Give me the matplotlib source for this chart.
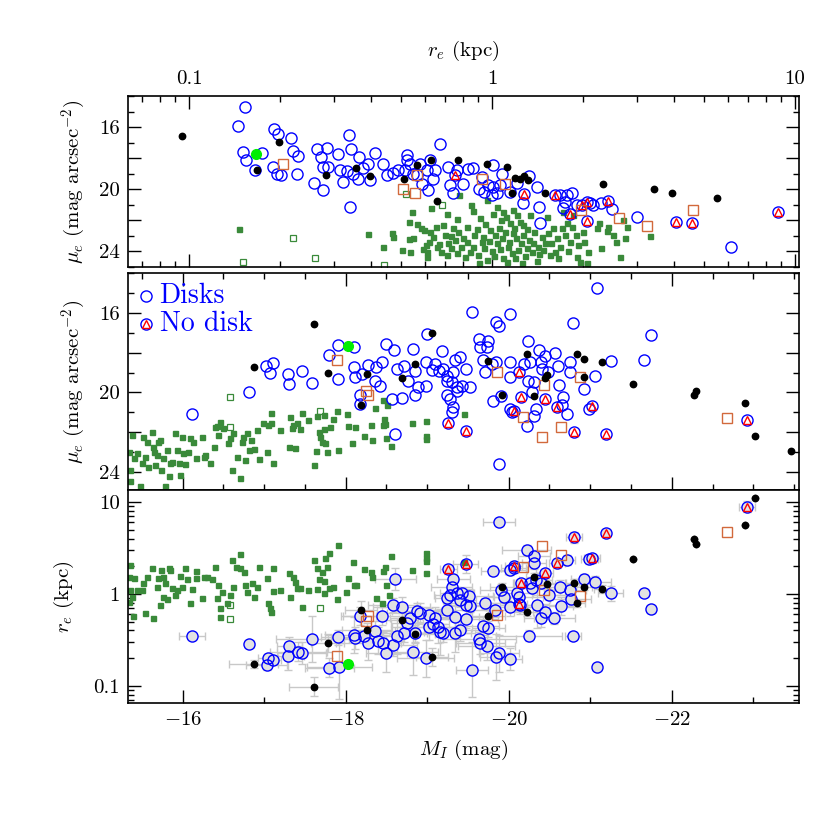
import numpy as np
import matplotlib
matplotlib.use('Agg')
import matplotlib.pyplot as plt
from matplotlib.ticker import MultipleLocator, LogLocator, NullFormatter

plt.rcParams['font.family'] = 'serif'
plt.rcParams['font.serif'] = ['cmr10', 'DejaVu Serif']
plt.rcParams['mathtext.fontset'] = 'cm'
plt.rcParams['axes.formatter.use_mathtext'] = True

# ---------------- top panel: (log10 r_e [kpc], mu_e) ----------------
top_disk = [(-0.815,14.72),(-0.837,15.96),(-0.720,16.11),(-0.705,16.47),(-0.665,16.70),(-0.821,17.60),(-0.760,17.67),
            (-0.812,18.14),(-0.782,18.73),(-0.724,18.56),(-0.711,19.03),(-0.698,19.10),(-0.645,18.99),(-0.656,17.54),
            (-0.640,17.88),(-0.579,17.39),(-0.546,17.32),(-0.566,17.92),(-0.507,17.71),(-0.471,16.53),(-0.467,17.39),
            (-0.438,17.92),(-0.386,17.67),(-0.557,18.56),(-0.540,18.56),(-0.502,18.73),(-0.477,18.82),(-0.458,18.99),
            (-0.441,19.31),(-0.408,18.35),(-0.403,19.42),(-0.425,18.61),(-0.359,18.35),(-0.348,19.10),(-0.326,18.95),
            (-0.588,19.59),(-0.559,20.02),(-0.493,19.52),(-0.469,21.13),(-0.282,17.82),(-0.280,18.14),(-0.271,18.35),
            (-0.287,18.78),(-0.260,18.99),(-0.238,18.35),(-0.216,18.78),(-0.205,18.14),(-0.194,19.31),(-0.172,17.07),
            (-0.188,18.78),(-0.139,19.74),(-0.144,18.56),(-0.128,20.27),(-0.117,18.78),(-0.095,19.63),(-0.078,18.67),
            (-0.210,20.06),(-0.232,19.63),(-0.249,19.10),(-0.309,18.78),
            (-0.064,18.63),(-0.034,19.20),(-0.042,19.99),(-0.027,20.16),(-0.012,19.74),(0.004,19.84),(-0.001,20.38),
            (0.015,20.21),(0.032,18.99),(0.004,18.41),(0.026,19.74),(0.059,20.16),(0.081,19.57),(0.123,19.14),
            (0.149,19.84),(0.103,20.85),(0.156,21.13),(0.158,22.19),(0.224,20.38),(0.248,20.34),(0.263,20.27),
            (0.241,20.81),(0.235,21.23),(0.279,21.02),(0.334,21.02),(0.358,20.85),(0.395,21.28),(0.323,20.91),
            (0.477,21.77),(0.787,23.69)]
top_nodisk = [(0.106,20.31),(0.208,20.38),(0.257,21.60),(0.312,20.81),(0.384,20.76),(0.312,22.02),(0.296,21.02),
              (-0.122,19.05),(0.607,22.13),(0.659,22.15),(0.945,21.49)]
top_black = [(-1.024,16.60),(-0.702,16.98),(-0.774,18.73),(-0.548,19.05),(-0.449,18.63),(-0.403,19.12),(-0.291,19.31),
             (-0.247,18.46),(-0.203,18.14),(-0.183,20.74),(-0.111,18.14),(-0.016,18.39),(0.051,18.56),(0.065,20.23),
             (0.076,19.27),(0.092,19.31),(0.105,19.14),(0.120,19.42),(0.175,20.27),(0.367,19.63),(0.534,19.99),
             (0.595,20.23),(0.743,20.59)]
top_brown = [(-0.689,18.39),(-0.293,19.97),(-0.254,20.21),(-0.247,19.10),(-0.032,19.31),(0.043,19.69),(0.292,21.34),
             (0.418,21.83),(0.512,22.37),(0.664,21.34)]
top_lime = [(-0.779,17.71)]
top_green_open = [(-0.823,24.70),(-0.656,23.13),(-0.584,24.40),(-0.356,24.87),(-0.284,20.31),(-0.166,21.02)]
top_green = [(-0.835,22.56),(-0.408,22.88),(-0.361,23.69),(-0.331,22.84),(-0.326,23.05),(-0.296,23.93),(-0.273,22.09),
             (-0.273,23.20),(-0.271,24.01),(-0.265,21.45),(-0.260,23.12),(-0.247,22.26),(-0.233,22.52),(-0.229,23.84),
             (-0.225,22.62),(-0.218,23.59),(-0.216,24.01),(-0.213,24.33),(-0.207,23.37),(-0.205,22.73),(-0.200,21.19),
             (-0.194,23.05),(-0.185,22.41),(-0.183,23.69),(-0.174,23.54),(-0.169,24.01),(-0.161,22.30),(-0.156,22.95),
             (-0.150,24.23),(-0.148,21.62),(-0.145,23.44),(-0.137,23.80),(-0.134,22.99),(-0.128,22.48),(-0.123,23.27),
             (-0.117,21.88),(-0.115,24.12),(-0.112,22.73),(-0.108,20.38),(-0.104,23.69),(-0.095,23.12),(-0.090,24.33),
             (-0.084,23.37),(-0.082,22.41),(-0.073,24.01),(-0.068,21.02),(-0.064,23.69),(-0.062,21.41),(-0.060,22.95),
             (-0.051,22.56),(-0.046,24.23),(-0.042,24.76),(-0.040,21.83),(-0.034,23.37),(-0.031,23.05),(-0.027,23.80),
             (-0.023,22.26),(-0.018,20.70),(-0.016,24.55),(-0.009,23.33),(-0.007,22.62),(-0.001,23.97),(0.004,21.62),
             (0.006,24.27),(0.010,22.95),(0.015,21.13),(0.018,23.48),(0.024,22.48),(0.026,23.84),(0.028,21.98),
             (0.032,23.16),(0.035,24.44),(0.037,21.45),(0.043,22.73),(0.046,21.77),(0.048,24.66),(0.054,23.69),
             (0.057,23.37),(0.059,22.20),(0.065,24.12),(0.068,21.34),(0.070,22.84),(0.073,22.52),(0.077,24.44),
             (0.079,23.16),(0.081,21.66),(0.087,23.91),(0.092,22.09),(0.094,23.48),(0.098,24.76),(0.101,22.95),
             (0.103,22.30),(0.109,24.29),(0.114,23.80),(0.117,22.56),(0.123,23.27),(0.125,21.66),(0.131,24.01),
             (0.134,23.48),(0.138,22.73),(0.147,24.61),(0.153,23.69),(0.156,24.18),(0.164,23.05),(0.169,23.91),
             (0.175,23.48),(0.180,21.77),(0.186,22.84),(0.191,24.23),(0.193,23.48),(0.200,22.52),(0.208,24.01),
             (0.213,23.16),(0.219,24.44),(0.224,23.69),(0.230,22.52),(0.235,21.45),(0.241,22.95),(0.246,22.20),
             (0.252,23.97),(0.257,23.37),(0.263,22.41),(0.268,21.66),(0.277,22.95),(0.281,24.33),(0.285,23.59),
             (0.290,24.66),(0.299,22.73),(0.303,23.37),(0.312,24.76),(0.317,24.01),(0.345,22.52),(0.354,22.20),
             (0.361,23.80),(0.378,22.69),(0.383,22.43),(0.400,22.95),(0.408,23.37),(0.422,24.38),(0.433,21.98),
             (0.439,23.16),(0.444,22.41),(0.521,23.01)]

# ---------------- middle panel: (M_I, mu_e) ----------------
mid_disk = [(-16.11,21.09),(-16.82,19.97),(-17.02,18.69),(-17.11,18.52),(-17.07,19.02),(-17.29,19.09),(-17.31,19.55),
            (-17.46,18.94),(-17.59,19.52),(-17.79,18.12),(-17.91,17.62),(-18.10,17.69),(-17.90,19.32),(-18.10,18.74),
            (-18.12,19.24),(-18.20,19.07),(-18.28,18.62),(-18.37,18.74),(-18.44,18.49),(-18.36,19.40),(-18.42,19.65),
            (-18.17,20.15),(-18.18,20.57),(-18.49,17.54),(-18.59,17.87),(-18.63,18.82),(-18.71,18.69),(-18.83,17.82),
            (-18.85,18.90),(-18.77,19.40),(-18.89,19.74),(-18.85,20.12),(-18.99,19.69),(-18.69,20.29),(-18.57,20.35),
            (-18.61,22.10),(-18.99,18.45),(-19.00,17.07),(-19.06,18.85),(-19.10,18.57),(-19.18,17.94),(-19.14,18.90),
            (-19.20,18.82),(-19.24,19.15),(-19.32,18.99),(-19.34,18.35),(-19.40,18.24),(-19.47,18.82),(-19.24,19.40),
            (-19.30,19.49),(-19.36,19.74),(-19.43,19.65),(-19.53,19.74),(-19.36,19.90),(-19.24,20.12),(-19.28,20.32),
            (-19.32,20.74),(-19.30,20.99),(-19.55,15.95),(-19.64,17.29),(-19.74,17.40),(-19.65,17.69),(-19.73,17.69),
            (-19.68,18.35),(-19.71,18.99),(-19.79,18.57),(-19.85,18.49),(-20.01,18.49),(-19.85,16.45),(-19.88,16.65),
            (-20.01,16.07),(-19.81,20.45),(-19.90,20.19),(-19.88,23.57),(-20.01,19.24),(-20.04,20.99),(-20.02,20.82),
            (-20.24,17.40),(-20.19,18.57),(-20.26,18.49),(-20.24,19.40),(-20.31,19.45),(-20.28,19.99),(-20.33,20.82),
            (-20.31,21.19),(-20.22,21.69),(-20.37,17.85),(-20.45,18.15),(-20.39,18.45),(-20.41,18.82),(-20.48,18.99),
            (-20.57,18.04),(-20.61,18.65),(-20.75,18.49),(-20.75,18.95),(-20.62,19.62),(-20.67,20.24),(-20.65,20.62),
            (-20.71,21.07),(-20.79,16.52),(-20.92,19.82),(-21.06,19.15),(-20.98,20.82),(-21.08,14.74),(-21.25,18.40),
            (-21.74,17.09),(-21.66,18.35)]
mid_nodisk = [(-19.26,21.52),(-19.47,21.95),(-20.13,18.99),(-20.15,20.24),(-20.06,20.95),(-20.44,20.35),(-20.59,20.74),
              (-20.80,21.99),(-21.02,20.69),(-21.19,22.07),(-22.92,21.37)]
mid_black = [(-16.87,18.72),(-17.61,16.57),(-17.78,19.02),(-18.26,19.07),(-18.19,20.65),(-18.69,19.29),(-18.85,18.57),
             (-19.06,16.99),(-19.75,18.40),(-19.92,20.15),(-20.22,18.07),(-20.31,20.19),(-20.47,19.10),(-20.45,19.29),
             (-20.84,18.07),(-20.92,18.32),(-20.92,19.24),(-21.14,18.49),(-21.53,19.59),(-22.27,20.15),(-22.30,19.92),
             (-22.90,20.54),(-23.02,22.17),(-23.46,22.92)]
mid_brown = [(-17.89,18.37),(-18.25,19.90),(-18.28,20.15),(-19.86,18.99),(-20.43,19.62),(-20.87,19.24),(-20.17,21.24),
             (-20.41,22.24),(-20.64,21.75),(-22.68,21.27)]
mid_lime = [(-18.03,17.65)]
mid_green_open = [(-16.58,20.22),(-16.58,21.72),(-17.69,20.95)]
mid_green = [(-15.38,22.14),(-15.34,22.97),(-15.36,23.89),(-15.35,24.47),(-15.40,23.30),(-15.44,23.05),(-15.48,24.72),
             (-15.50,23.55),(-15.52,22.22),(-15.54,23.22),(-15.56,22.47),(-15.58,23.72),(-15.62,21.97),(-15.64,22.72),
             (-15.65,22.97),(-15.66,23.64),(-15.68,23.14),(-15.70,22.47),(-15.72,22.39),(-15.74,23.89),(-15.76,23.30),
             (-15.79,24.72),(-15.81,22.89),(-15.83,24.22),(-15.85,23.55),(-15.87,23.47),(-15.91,22.05),(-15.93,22.89),
             (-15.95,23.55),(-15.97,24.14),(-15.99,22.22),(-16.01,23.05),(-16.03,23.59),(-16.07,22.97),(-16.09,22.30),
             (-16.13,22.47),(-16.17,23.30),(-16.24,22.22),(-16.26,23.22),(-16.28,23.14),(-16.34,23.55),(-16.38,22.72),
             (-16.40,21.72),(-16.42,21.69),(-16.44,22.14),(-16.46,21.47),(-16.50,21.80),(-16.56,22.55),(-16.58,22.30),
             (-16.60,23.89),(-16.62,22.05),(-16.67,23.22),(-16.70,24.30),(-16.73,22.47),(-16.74,22.22),(-16.77,23.39),
             (-16.79,22.05),(-16.81,22.89),(-16.84,22.39),(-16.88,22.85),(-16.91,21.89),(-16.94,23.35),(-16.98,21.55),
             (-17.03,22.97),(-17.05,21.64),(-17.08,21.05),(-17.09,21.55),(-17.11,23.55),(-17.20,21.89),(-17.30,22.72),
             (-17.32,21.22),(-17.34,21.80),(-17.36,21.64),(-17.38,22.80),(-17.40,21.55),
             (-17.46,21.02),(-17.54,21.40),(-17.65,21.19),(-17.74,21.12),(-17.84,21.32),(-17.89,20.95),(-18.02,21.07),
             (-18.03,21.69),(-18.12,21.74),(-18.22,22.19),(-18.31,21.65),(-18.32,22.40),(-18.08,22.52),(-18.36,20.79),
             (-18.46,20.37),(-18.51,20.65),(-18.47,21.32),(-18.48,21.57),(-18.46,21.62),(-18.50,22.29),(-18.55,22.69),
             (-18.81,21.52),(-18.98,21.45),(-18.99,22.19),(-18.98,22.32),(-19.45,21.10),(-17.44,21.82),(-17.67,21.99),
             (-17.69,22.24),(-17.73,21.82),(-17.75,22.52),(-17.77,22.99),(-17.64,22.95),(-17.90,22.90),(-17.61,23.65),
             (-17.81,21.74),(-17.71,22.49)]

# ---------------- bottom panel: (M_I, log10 r_e, err M_I, err log r_e) ----------------
bot_disk = [(-16.11,-0.457,0.16,0.03),(-16.82,-0.544,0.05,0.03),(-17.03,-0.772,0.25,0.06),(-17.05,-0.699,0.12,0.05),
            (-17.11,-0.717,0.10,0.04),(-17.29,-0.681,0.20,0.15),(-17.31,-0.572,0.15,0.10),(-17.42,-0.627,0.35,0.10),
            (-17.46,-0.638,0.30,0.12),(-17.59,-0.490,0.45,0.25),(-17.80,-0.801,0.30,0.10),(-17.90,-0.471,0.20,0.08),
            (-17.92,-0.798,0.40,0.35),(-18.10,-0.446,0.35,0.20),(-18.12,-0.482,0.30,0.12),(-18.17,-0.240,0.20,0.10),
            (-18.22,-0.453,0.15,0.06),(-18.28,-0.537,0.40,0.18),(-18.36,-0.399,0.25,0.10),(-18.40,-0.508,0.30,0.15),
            (-18.44,-0.240,0.50,0.10),(-18.46,-0.529,0.20,0.12),(-18.50,-0.645,0.25,0.20),(-18.58,-0.555,0.30,0.12),
            (-18.61,0.159,0.25,0.12),(-18.58,-0.120,0.30,0.08),(-18.63,-0.457,0.20,0.20),(-18.69,-0.138,0.35,0.10),
            (-18.71,-0.428,0.40,0.10),(-18.75,-0.319,0.20,0.06),(-18.79,-0.265,0.25,0.08),(-18.83,-0.627,0.30,0.25),
            (-18.85,-0.421,0.15,0.10),(-18.87,-0.182,0.30,0.08),(-18.91,-0.203,0.40,0.10),(-18.98,-0.700,0.35,0.20),
            (-19.02,-0.229,0.30,0.08),(-19.02,-0.356,0.45,0.15),(-19.07,-0.327,0.20,0.10),(-19.10,-0.265,0.30,0.12),
            (-19.13,-0.356,0.25,0.18),(-19.16,-0.410,0.20,0.25),(-19.19,-0.428,0.35,0.10),(-19.24,-0.048,0.15,0.06),
            (-19.24,-0.174,0.30,0.10),(-19.28,-0.011,0.20,0.05),(-19.30,0.079,0.25,0.08),(-19.32,0.159,0.20,0.06),
            (-19.34,-0.247,0.30,0.15),(-19.34,-0.428,0.25,0.20),(-19.36,0.014,0.20,0.06),(-19.40,-0.392,0.30,0.12),
            (-19.40,-0.066,0.20,0.08),(-19.43,0.007,0.15,0.05),(-19.47,-0.276,0.40,0.10),(-19.48,-0.120,0.20,0.06),
            (-19.51,-0.022,0.30,0.08),(-19.53,-0.131,0.25,0.07),(-19.55,-0.827,0.20,0.30),(-19.64,-0.493,0.45,0.08),
            (-19.65,-0.537,0.30,0.12),(-19.68,-0.348,0.20,0.10),(-19.71,-0.102,0.25,0.06),(-19.73,-0.566,0.35,0.15),
            (-19.75,-0.374,0.20,0.10),(-19.81,0.253,0.15,0.05),(-19.83,-0.174,0.30,0.08),(-19.85,-0.689,0.20,0.25),
            (-19.88,-0.645,0.25,0.20),(-19.88,0.786,0.20,0.03),(-19.90,0.043,0.25,0.06),(-19.94,-0.037,0.20,0.08),
            (-20.01,-0.711,0.15,0.12),(-20.02,-0.138,0.30,0.10),(-20.02,0.260,0.20,0.05),(-20.06,0.279,0.15,0.05),
            (-20.10,0.007,0.20,0.06),(-20.12,-0.029,0.30,0.08),(-20.14,-0.120,0.25,0.10),(-20.22,0.478,0.30,0.05),
            (-20.25,-0.457,0.40,0.06),(-20.26,0.116,0.20,0.06),(-20.28,0.061,0.15,0.05),(-20.31,0.413,0.20,0.05),
            (-20.31,0.333,0.15,0.06),(-20.33,0.152,0.20,0.08),(-20.35,-0.120,0.25,0.25),(-20.39,0.116,0.30,0.06),
            (-20.39,-0.265,0.20,0.10),(-20.45,-0.192,0.15,0.08),(-20.49,-0.011,0.20,0.06),(-20.56,-0.265,0.25,0.06),
            (-20.63,0.072,0.20,0.08),(-20.64,-0.131,0.15,0.10),(-20.71,0.369,0.10,0.05),(-20.75,0.043,0.20,0.06),
            (-20.76,-0.058,0.25,0.08),(-20.79,-0.457,0.10,0.04),(-20.92,0.159,0.15,0.06),(-20.99,0.377,0.10,0.05),
            (-21.06,0.134,0.20,0.06),(-21.08,-0.798,0.05,0.03),(-21.25,0.007,0.15,0.08),(-21.66,0.014,0.05,0.03),
            (-21.74,-0.167,0.05,0.04)]
bot_nodisk = [(-19.26,0.268,0.10,0.05),(-19.47,0.326,0.15,0.10),(-20.06,0.304,0.10,0.05),(-20.15,0.116,0.10,0.05),
              (-20.13,-0.109,0.10,0.08),(-20.44,0.224,0.10,0.05),(-20.59,0.333,0.10,0.05),(-20.80,0.616,0.10,0.06),
              (-21.02,0.387,0.10,0.05),(-21.19,0.666,0.05,0.04),(-22.92,0.946,0.10,0.06)]
bot_black = [(-16.87,-0.761,0.30,0.04),(-17.61,-1.008,0.30,0.10),(-17.78,-0.537,0.20,0.10),(-18.19,-0.174,0.20,0.10),
             (-18.26,-0.392,0.30,0.08),(-18.69,-0.283,0.20,0.08),(-18.85,-0.435,0.25,0.10),(-19.06,-0.689,0.20,0.10),
             (-19.75,-0.240,0.20,0.06),(-19.92,0.072,0.15,0.05),(-20.22,-0.192,0.15,0.05),(-20.31,0.181,0.10,0.05),
             (-20.47,0.108,0.10,0.04),(-20.80,0.123,0.10,0.04),(-20.92,0.079,0.10,0.04),(-20.84,-0.102,0.10,0.04),
             (-21.14,0.058,0.10,0.04),(-21.53,0.377,0.0,0.0),(-22.27,0.601,0.0,0.0),(-22.30,0.540,0.0,0.0),
             (-22.90,0.746,0.0,0.0),(-23.02,1.043,0.0,0.0)]
bot_brown = [(-17.89,-0.674),(-18.25,-0.290),(-18.28,-0.240),(-19.86,-0.229),(-20.43,0.043),(-20.87,-0.022),
             (-20.17,0.297),(-20.41,0.521),(-20.64,0.424),(-22.68,0.670)]
bot_lime = [(-18.03,-0.761)]
bot_green_open = [(-16.58,-0.120),(-16.58,-0.275),(-17.69,-0.156)]
bot_green = [(-15.35,0.315),(-15.34,0.188),(-15.36,0.043),(-15.38,-0.029),(-15.34,-0.083),(-15.39,-0.239),(-15.40,0.170),
             (-15.44,0.043),(-15.50,0.043),(-15.52,0.116),(-15.54,-0.210),(-15.56,0.188),(-15.62,0.279),(-15.64,-0.265),
             (-15.68,0.080),(-15.70,0.170),(-15.72,-0.120),(-15.74,0.261),(-15.76,-0.029),(-15.76,0.188),(-15.79,0.116),
             (-15.81,-0.058),(-15.83,0.279),(-15.85,0.261),(-15.87,0.061),(-15.91,-0.011),(-15.93,0.043),(-15.97,0.196),
             (-15.99,0.080),(-16.03,0.279),(-16.05,0.159),(-16.09,-0.102),(-16.11,0.051),(-16.17,0.254),(-16.17,0.170),
             (-16.24,-0.047),(-16.26,0.188),(-16.30,0.188),(-16.36,0.159),(-16.40,0.290),(-16.42,-0.047),(-16.44,0.098),
             (-16.46,-0.246),(-16.46,-0.156),(-16.48,0.025),(-16.54,-0.102),(-16.58,-0.011),(-16.60,0.369),(-16.62,0.080),
             (-16.66,0.297),(-16.70,0.435),(-16.71,0.279),(-16.75,0.243),(-16.77,0.098),(-16.79,0.025),(-16.85,0.116),
             (-16.87,-0.036),(-16.91,0.080),(-16.94,0.290),(-17.03,0.170),(-17.05,-0.094),(-17.07,-0.156),(-17.08,-0.192),
             (-17.11,0.279),(-17.11,0.036),(-17.20,0.043),(-17.30,0.225),(-17.32,-0.036),(-17.36,0.188),(-17.38,0.134),
             (-17.40,0.061),
             (-17.91,0.532),(-17.79,0.449),(-17.75,0.387),(-17.61,0.369),(-17.65,0.279),(-17.71,0.242),(-17.77,0.289),
             (-17.67,0.159),(-17.74,0.144),(-17.84,0.079),(-17.80,0.061),(-17.65,0.050),(-17.54,0.043),(-17.44,0.061),
             (-17.73,0.007),(-17.89,-0.058),(-18.01,0.025),(-18.03,0.177),(-18.10,0.097),(-18.13,0.097),(-18.09,0.351),
             (-18.23,0.268),(-18.31,0.242),(-18.32,0.181),(-18.46,0.253),(-18.48,0.297),(-18.50,0.097),(-18.53,-0.011),
             (-18.55,0.413),(-18.44,-0.102),(-18.37,-0.048),(-18.81,0.260),(-18.98,0.449),(-18.99,0.387),(-18.98,0.362),
             (-18.98,0.231),(-19.45,0.351),(-17.46,-0.138)]

BLUE = '#0000ff'
GREEN = '#3a8a3a'
BROWN = '#d2693c'
LIME = '#00ee00'
GREY = '#c8c8c8'


def arr(pts):
    return np.array(pts, dtype=float).T


def style(ax):
    ax.tick_params(which='both', direction='in', top=True, right=True, labelsize=15, pad=6)
    ax.tick_params(which='major', length=9.5, width=1.0)
    ax.tick_params(which='minor', length=4.5, width=1.0)
    for s in ax.spines.values():
        s.set_linewidth(1.2)


def draw_points(ax, disk, nodisk, black, brown, lime, green, green_open, logy=False, logx=False):
    def tr(a):
        x, y = a[0], a[1]
        if logx:
            x = 10 ** x
        if logy:
            y = 10 ** y
        return x, y
    x, y = tr(arr(green))
    ax.plot(x, y, 's', ms=3.6, color=GREEN, mec=GREEN, ls='none', zorder=2)
    x, y = tr(arr(green_open))
    ax.plot(x, y, 's', ms=3.8, mfc='none', mec=GREEN, mew=0.9, ls='none', zorder=2)
    x, y = tr(arr(disk))
    ax.plot(x, y, 'o', ms=8, mfc='none', mec=BLUE, mew=1.0, ls='none', zorder=3)
    x, y = tr(arr(nodisk))
    ax.plot(x, y, 'o', ms=8, mfc='none', mec=BLUE, mew=1.0, ls='none', zorder=3)
    ax.plot(x, y, '^', ms=5.5, mfc='none', mec='red', mew=1.0, ls='none', zorder=4)
    x, y = tr(arr(brown))
    ax.plot(x, y, 's', ms=6.5, mfc='none', mec=BROWN, mew=1.0, ls='none', zorder=4)
    x, y = tr(arr(black))
    ax.plot(x, y, 'o', ms=4.6, color='black', ls='none', zorder=5)
    x, y = tr(arr(lime))
    ax.plot(x, y, 'o', ms=7, color=LIME, ls='none', zorder=6)


fig = plt.figure(figsize=(8.3, 8.3), dpi=100)
ax1 = fig.add_axes([0.1542, 0.6783, 0.8084, 0.2060])
ax2 = fig.add_axes([0.1542, 0.4096, 0.8084, 0.2614])
ax3 = fig.add_axes([0.1542, 0.1530, 0.8084, 0.2566])

mu_label = r'$\mu_e$ (mag arcsec$^{-2}$)'

# top panel
style(ax1)
ax1.set_xscale('log')
draw_points(ax1, top_disk, top_nodisk, top_black, top_brown, top_lime, top_green, top_green_open, logx=True)
ax1.set_xlim(0.0629, 10.3)
ax1.set_ylim(25, 14)
ax1.set_xticks([0.1, 1, 10], ['0.1', '1', '10'])
ax1.xaxis.set_minor_locator(LogLocator(base=10, subs=np.arange(2, 10)))
ax1.xaxis.set_minor_formatter(NullFormatter())
ax1.tick_params(labeltop=True, labelbottom=False)
ax1.xaxis.set_label_position('top')
ax1.set_xlabel(r'$r_e$ (kpc)', fontsize=15, labelpad=10)
ax1.set_yticks([16, 18, 20, 22, 24], ['16', '', '20', '', '24'])
ax1.yaxis.set_minor_locator(MultipleLocator(1))
ax1.set_ylabel(mu_label, fontsize=15, labelpad=8)

# middle panel
style(ax2)
draw_points(ax2, mid_disk, mid_nodisk, mid_black, mid_brown, mid_lime, mid_green, mid_green_open)
ax2.set_xlim(-15.33, -23.56)
ax2.set_ylim(24.9, 14.0)
ax2.set_xticks([-16, -18, -20, -22], ['', '', '', ''])
ax2.xaxis.set_minor_locator(MultipleLocator(0.5))
ax2.set_yticks([16, 18, 20, 22, 24], ['16', '', '20', '', '24'])
ax2.yaxis.set_minor_locator(MultipleLocator(1))
ax2.set_ylabel(mu_label, fontsize=15, labelpad=8)

# key in the middle panel
key_y = [0.893, 0.766]
ax2.plot([0.027, 0.027], key_y, 'o', ms=8, mfc='none', mec=BLUE, mew=1.0,
         transform=ax2.transAxes, clip_on=False, zorder=7)
ax2.plot([0.027], [key_y[1]], '^', ms=5.5, mfc='none', mec='red', mew=1.0,
         transform=ax2.transAxes, clip_on=False, zorder=8)
ax2.text(0.047, key_y[0], 'Disks', color=BLUE, fontsize=20, va='center', ha='left', transform=ax2.transAxes)
ax2.text(0.047, key_y[1], 'No disk', color=BLUE, fontsize=20, va='center', ha='left', transform=ax2.transAxes)

# bottom panel
style(ax3)
ax3.set_yscale('log')
for pts in [bot_disk, bot_nodisk, bot_black]:
    m, lr, xe, ye = arr(pts)
    r = 10 ** lr
    yerr = [r - 10 ** (lr - ye), 10 ** (lr + ye) - r]
    ax3.errorbar(m, r, xerr=xe, yerr=yerr, fmt='none', ecolor=GREY, elinewidth=1.0,
                 capsize=3, capthick=1.0, zorder=1)
m, lr, xe, ye = arr(bot_disk + bot_nodisk)
ax3.plot(m, 10 ** lr, 'o', ms=8, mfc='#e2e2e2', mec='none', ls='none', zorder=1.5)
draw_points(ax3, [p[:2] for p in bot_disk], [p[:2] for p in bot_nodisk], [p[:2] for p in bot_black],
            bot_brown, bot_lime, bot_green, bot_green_open, logy=True)
ax3.set_xlim(-15.33, -23.56)
ax3.set_ylim(0.065, 13.5)
ax3.set_xticks([-16, -18, -20, -22], ['$-16$', '$-18$', '$-20$', '$-22$'])
ax3.xaxis.set_minor_locator(MultipleLocator(1))
ax3.tick_params(which='both', top=False)
ax3.set_yticks([0.1, 1, 10], ['0.1', '1', '10'])
ax3.yaxis.set_minor_locator(LogLocator(base=10, subs=np.arange(2, 10)))
ax3.yaxis.set_minor_formatter(NullFormatter())
ax3.set_xlabel(r'$M_I$ (mag)', fontsize=15, labelpad=6)
ax3.set_ylabel(r'$r_e$ (kpc)', fontsize=15, labelpad=12)

fig.savefig('out.png', dpi=100)
